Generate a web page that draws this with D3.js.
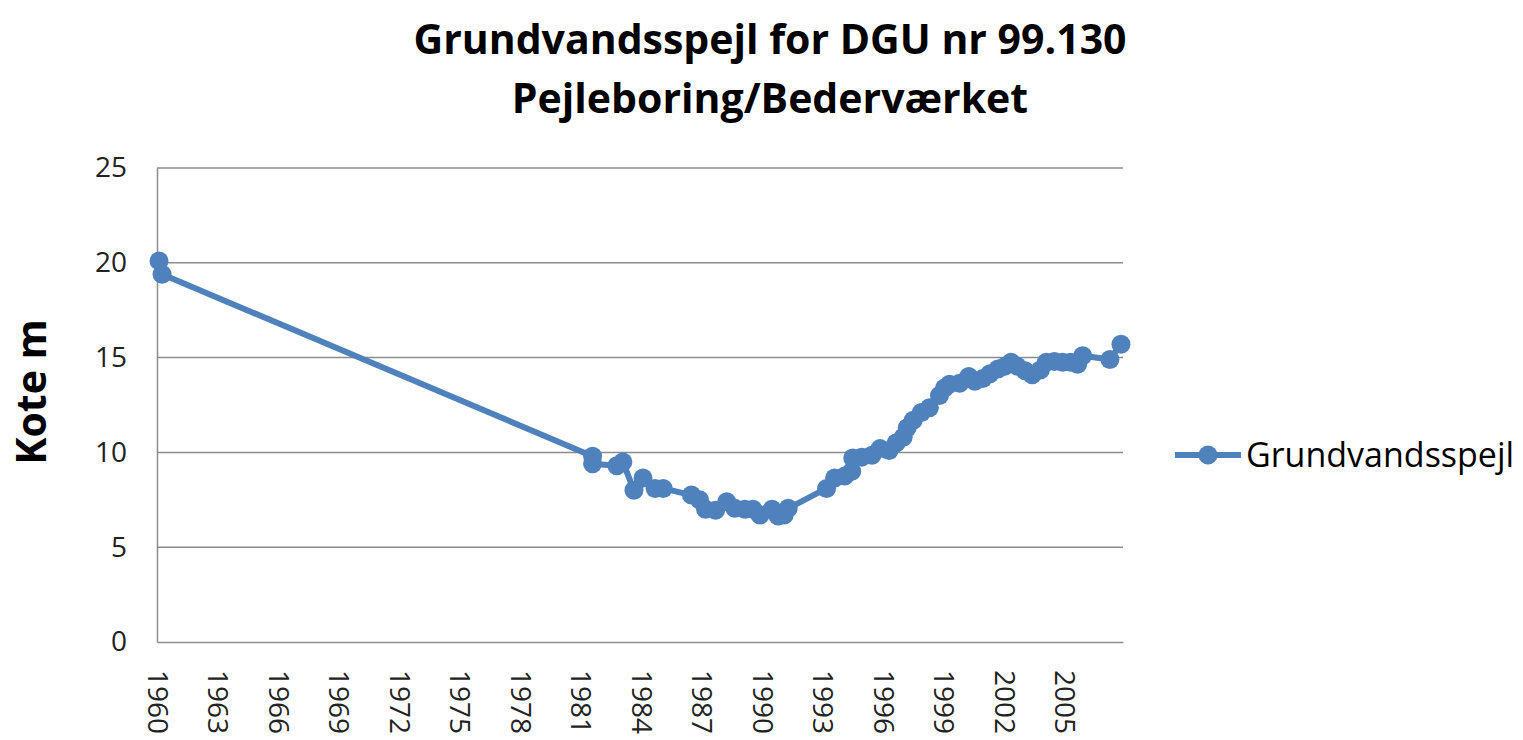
<!DOCTYPE html>
<html>
<head>
<meta charset="utf-8">
<script src="https://cdn.jsdelivr.net/npm/d3@7"></script>
<style>
  body { margin: 0; background: #fff; }
  svg { font-family: "Open Sans", "Liberation Sans", sans-serif; }
</style>
</head>
<body>
<div class="container"></div>
<script>
  // data (decimal year, level in m)
  var years = [1960.1, 1960.25, 1981.6, 1981.6, 1982.8, 1983.1, 1983.65, 1984.1, 1984.7, 1985.1,
    1986.5, 1986.9, 1987.2, 1987.7, 1988.25, 1988.65, 1989.15, 1989.55, 1989.9, 1990.5,
    1990.8, 1991.1, 1991.3, 1993.2, 1993.6, 1994.1, 1994.45, 1994.5, 1994.95, 1995.45,
    1995.85, 1996.3, 1996.65, 1997.0, 1997.2, 1997.5, 1997.9, 1998.3, 1998.8, 1999.05,
    1999.3, 1999.8, 2000.25, 2000.55, 2000.95, 2001.3, 2001.7, 2002.05, 2002.35, 2002.65,
    2003.05, 2003.4, 2003.8, 2004.1, 2004.5, 2004.9, 2005.3, 2005.65, 2005.9, 2007.25, 2007.8];
  var levels = [20.1, 19.4, 9.8, 9.4, 9.3, 9.5, 8.0, 8.65, 8.1, 8.1,
    7.75, 7.5, 7.0, 6.95, 7.4, 7.05, 7.0, 7.0, 6.7, 7.0,
    6.65, 6.7, 7.05, 8.1, 8.65, 8.75, 9.0, 9.7, 9.75, 9.85,
    10.2, 10.1, 10.5, 10.8, 11.3, 11.7, 12.1, 12.35, 13.0, 13.4,
    13.6, 13.65, 14.0, 13.75, 13.9, 14.15, 14.4, 14.55, 14.75, 14.55,
    14.3, 14.1, 14.35, 14.75, 14.8, 14.75, 14.75, 14.65, 15.1, 14.9, 15.7];
  var xTicks = [1960, 1963, 1966, 1969, 1972, 1975, 1978, 1981, 1984, 1987, 1990, 1993, 1996, 1999, 2002, 2005];
  var yTicks = [0, 5, 10, 15, 20, 25];
  var titleLines = ["Grundvandsspejl for DGU nr 99.130", "Pejleboring/Bederværket"];
  var seriesName = "Grundvandsspejl";

  var w = 1523, h = 740;
  var color = "#4f81bd";
  // plot area edges
  var plotL = 157, plotR = 1123, plotT = 168, plotB = 642;

  var svg = d3.select(".container").append("svg").attr("width", w).attr("height", h);

  var x = d3.scaleLinear().domain([1960, 2007.9]).range([plotL, plotR]);
  var y = d3.scaleLinear().domain([0, 25]).range([plotB, plotT]);

  // title
  svg.append("g").selectAll("text")
    .data(titleLines)
    .enter()
    .append("text")
    .attr("x", 770)
    .attr("y", function(d, i) { return 54 + i * 59; })
    .attr("text-anchor", "middle")
    .attr("font-weight", "bold")
    .attr("font-size", 41)
    .attr("fill", "#000")
    .text(function(d) { return d; });

  // gridlines
  svg.append("g")
    .selectAll("line")
    .data(yTicks.slice(1))
    .enter()
    .append("line")
    .attr("x1", plotL).attr("x2", plotR)
    .attr("y1", function(d) { return y(d); })
    .attr("y2", function(d) { return y(d); })
    .attr("stroke", "#8c8c8c")
    .attr("stroke-width", 1.5);

  // y axis
  var yAxis = svg.append("g")
    .attr("transform", "translate(" + plotL + ",0)")
    .call(d3.axisLeft(y).tickValues(yTicks).tickSize(0).tickPadding(30));
  yAxis.select(".domain").attr("stroke", "#8c8c8c").attr("stroke-width", 1.5);
  yAxis.selectAll("text")
    .attr("font-size", 28)
    .attr("fill", "#222")
    .attr("font-family", "Open Sans, sans-serif");

  // x axis
  var xAxis = svg.append("g")
    .attr("transform", "translate(0," + plotB + ")")
    .call(d3.axisBottom(x).tickValues(xTicks).tickSize(0).tickFormat(d3.format("d")));
  xAxis.select(".domain").attr("stroke", "#8c8c8c").attr("stroke-width", 1.5);
  xAxis.selectAll("text")
    .attr("font-size", 28)
    .attr("fill", "#222")
    .attr("font-family", "Open Sans, sans-serif")
    .attr("text-anchor", "start")
    .attr("transform", "translate(0,28) rotate(90)")
    .attr("x", 0)
    .attr("y", 0)
    .attr("dy", "0.35em");

  // y axis title
  svg.append("text")
    .attr("transform", "translate(46,392) rotate(-90)")
    .attr("text-anchor", "middle")
    .attr("font-weight", "bold")
    .attr("font-size", 41)
    .attr("fill", "#000")
    .text("Kote m");

  // series
  var points = years.map(function(d, i) { return [d, levels[i]]; });
  var line = d3.line()
    .x(function(d) { return x(d[0]); })
    .y(function(d) { return y(d[1]); });

  svg.append("path")
    .datum(points)
    .attr("fill", "none")
    .attr("stroke", color)
    .attr("stroke-width", 6)
    .attr("stroke-linejoin", "round")
    .attr("d", line);

  svg.append("g")
    .selectAll("circle")
    .data(points)
    .enter()
    .append("circle")
    .attr("cx", function(d) { return x(d[0]); })
    .attr("cy", function(d) { return y(d[1]); })
    .attr("r", 9.5)
    .attr("fill", color);

  // legend
  var legend = svg.append("g").attr("transform", "translate(1175,455)");
  legend.append("line")
    .attr("x1", 0).attr("x2", 66)
    .attr("stroke", color).attr("stroke-width", 6);
  legend.append("circle").attr("cx", 33).attr("r", 9.5).attr("fill", color);
  legend.append("text")
    .attr("x", 71)
    .attr("dy", "0.35em")
    .attr("font-size", 34)
    .attr("fill", "#000")
    .text(seriesName);
</script>
</body>
</html>
